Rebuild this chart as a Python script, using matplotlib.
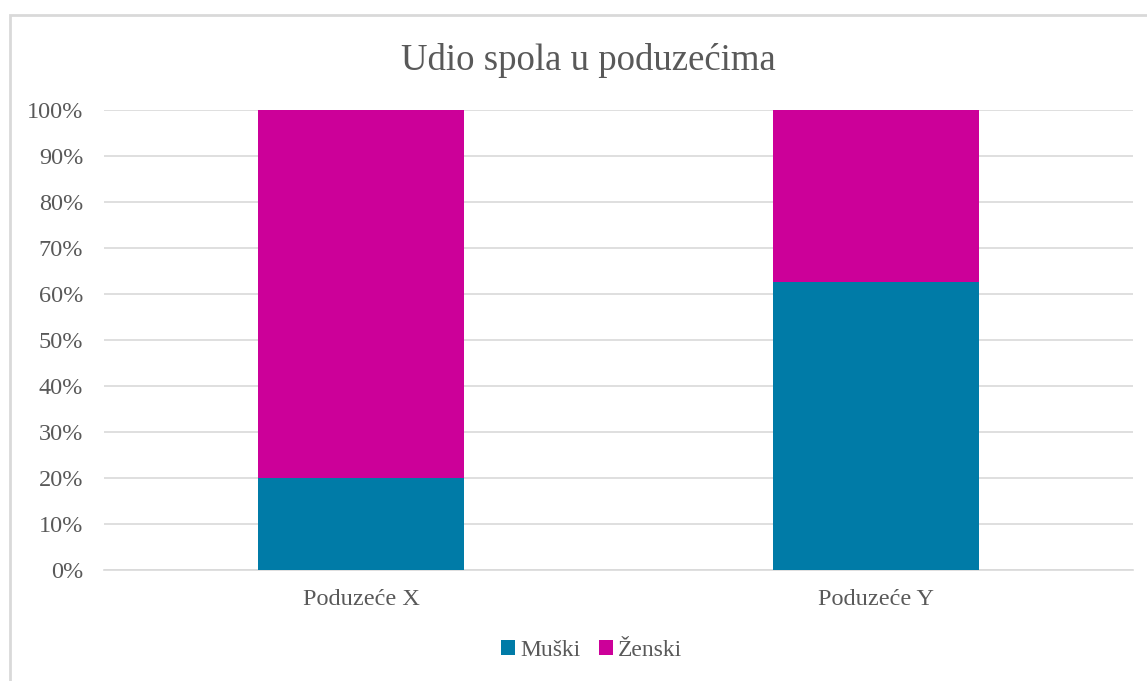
import numpy as np
import matplotlib.pyplot as plt
from matplotlib.patches import Rectangle
from matplotlib.ticker import PercentFormatter

companies = ['Poduzeće X', 'Poduzeće Y']
muski = [20, 62.5]
zenski = [80, 37.5]
series_names = ['Muški', 'Ženski']
colors = ['#007BA7', '#CC0099']
text_gray = '#595959'

plt.rcParams['font.family'] = ['Liberation Serif', 'DejaVu Serif']

fig = plt.figure(figsize=(11.47, 6.81), dpi=100)
W, H = 1147, 681
ax = fig.add_axes([104 / W, 1 - 570 / H, (1133 - 104) / W, 460 / H])

# outer chart border
fig.patches.append(Rectangle((9.5 / W, -0.1), 1.2, 1 - 14.5 / H + 0.1,
                             transform=fig.transFigure, fill=False,
                             edgecolor='#D9D9D9', linewidth=2))

x = np.arange(len(companies))
ax.bar(x, muski, width=0.4, color=colors[0], label=series_names[0], zorder=3)
ax.bar(x, zenski, width=0.4, bottom=muski, color=colors[1], label=series_names[1], zorder=3)

ax.set_xlim(-0.5, 1.5)
ax.set_ylim(0, 100)
ax.set_yticks(np.arange(0, 101, 10))
ax.yaxis.set_major_formatter(PercentFormatter(decimals=0))
ax.set_xticks(x)
ax.set_xticklabels(companies)
ax.grid(axis='y', color='#D9D9D9', linewidth=1.2, zorder=0)
for s in ax.spines.values():
    s.set_visible(False)
ax.spines['bottom'].set_visible(True)
ax.spines['bottom'].set_color('#D9D9D9')
ax.spines['bottom'].set_linewidth(1.2)
ax.tick_params(axis='both', length=0, labelsize=17.5, labelcolor=text_gray)
ax.tick_params(axis='y', pad=15)
ax.tick_params(axis='x', pad=14)

fig.text(0.513, 1 - 60 / H, 'Udio spola u poduzećima', ha='center', va='center',
         fontsize=26.5, color=text_gray)

fig.legend(loc='center', bbox_to_anchor=(0.516, 1 - 650 / H), ncol=2, frameon=False,
           fontsize=17, labelcolor=text_gray, handlelength=0.6, handleheight=0.6,
           handletextpad=0.2, columnspacing=0.8)

fig.savefig('out.png', dpi=100)
